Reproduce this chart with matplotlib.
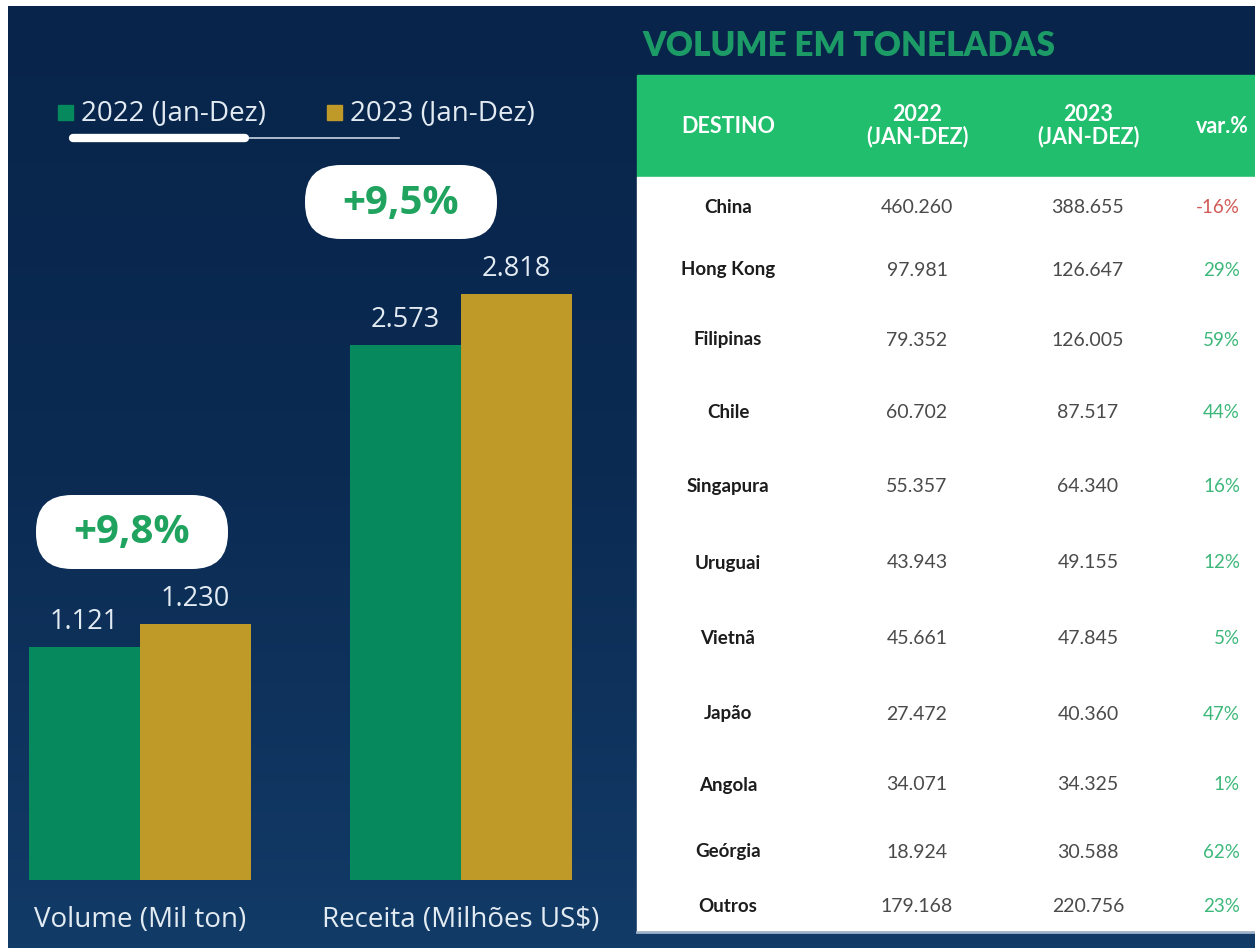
import numpy as np
import matplotlib
matplotlib.use("Agg")
import matplotlib.pyplot as plt
from matplotlib.patches import Rectangle, FancyBboxPatch
from matplotlib.colors import LinearSegmentedColormap

# dados do gráfico de barras
categorias = ['Volume (Mil ton)', 'Receita (Milhões US$)']
valores_2022 = [1.121, 2.573]
valores_2023 = [1.230, 2.818]
variacao_barras = ['+9,8%', '+9,5%']
legenda = ['2022 (Jan-Dez)', '2023 (Jan-Dez)']

# dados da tabela
destinos = ['China', 'Hong Kong', 'Filipinas', 'Chile', 'Singapura', 'Uruguai',
            'Vietnã', 'Japão', 'Angola', 'Geórgia', 'Outros']
ton_2022 = ['460.260', '97.981', '79.352', '60.702', '55.357', '43.943',
            '45.661', '27.472', '34.071', '18.924', '179.168']
ton_2023 = ['388.655', '126.647', '126.005', '87.517', '64.340', '49.155',
            '47.845', '40.360', '34.325', '30.588', '220.756']
var_pct = ['-16%', '29%', '59%', '44%', '16%', '12%', '5%', '47%', '1%', '62%', '23%']
cabecalho = ['DESTINO', '2022\n(JAN-DEZ)', '2023\n(JAN-DEZ)', 'var.%']

VERDE = '#05895d'
OURO = '#c09a29'
VERDE_TAB = '#21bf6d'
TXT = '#e3ebf2'

W, H = 1255, 948
fig = plt.figure(figsize=(W / 100, H / 100), dpi=100, facecolor='white')

# fundo em coordenadas de pixel
bg = fig.add_axes([0, 0, 1, 1])
bg.axis('off')
cmap = LinearSegmentedColormap.from_list('fundo', ['#08244a', '#0b2b53', '#123b67'])
grad = np.linspace(0, 1, 256).reshape(-1, 1)
bg.imshow(grad, cmap=cmap, aspect='auto', extent=(8, W, H, 6), zorder=0)
bg.set_xlim(0, W)
bg.set_ylim(H, 0)

# eixo das barras
fator = 233 / 1.121  # px por unidade
y_top = 3.75
ax = fig.add_axes([8 / W, (H - 880) / H, 612 / W, y_top * fator / H])
ax.set_facecolor('none')
x = np.arange(len(categorias))
larg = 0.346
ax.bar(x - larg / 2, valores_2022, larg, color=VERDE, zorder=3)
ax.bar(x + larg / 2, valores_2023, larg, color=OURO, zorder=3)
ax.set_xlim(-132 / 321, -132 / 321 + 612 / 321)
ax.set_ylim(0, y_top)
for xs, vals in [(x - larg / 2, valores_2022), (x + larg / 2, valores_2023)]:
    for xi, v in zip(xs, vals):
        ax.annotate(f'{v:.3f}', (xi, v), xytext=(0, 8), textcoords='offset points',
                    ha='center', va='bottom', color=TXT, fontsize=19.5, family='Open Sans')
ax.set_xticks(x)
ax.set_xticklabels(categorias, color=TXT, fontsize=20, family='Open Sans')
ax.tick_params(axis='x', length=0, pad=19)
ax.set_yticks([])
for s in ax.spines.values():
    s.set_visible(False)

# pílulas com a variação
pilulas = [(132, 532), (401, 202)]
for (cx, cy), txt in zip(pilulas, variacao_barras):
    bg.add_patch(FancyBboxPatch((cx - 96, cy - 37), 192, 74,
                                boxstyle='round,pad=0,rounding_size=36',
                                fc='white', ec='none', zorder=4))
    bg.text(cx, cy + 1, txt, ha='center', va='center', color='#1fa35e',
            fontsize=29, fontweight='bold', family='Open Sans', zorder=5)

# legenda
leg = [(58, legenda[0], VERDE), (327, legenda[1], OURO)]
for lx, txt, cor in leg:
    bg.add_patch(Rectangle((lx, 105), 15, 15, color=cor, zorder=3))
    bg.text(lx + 23, 113, txt, ha='left', va='center', color=TXT,
            fontsize=20, family='Open Sans')
bg.plot([70, 399], [138, 138], color='#c9d6e2', lw=1.2, zorder=3)
bg.plot([73, 245], [138, 138], color='white', lw=6, solid_capstyle='round', zorder=4)

# tabela
bg.text(642, 46, 'VOLUME EM TONELADAS', ha='left', va='center', color='#1c9b66',
        fontsize=24, fontweight='heavy', family='Lato')
bg.add_patch(Rectangle((637, 75), W - 637, 102, color=VERDE_TAB, zorder=2))
bg.add_patch(Rectangle((637, 177), W - 637, 754, color='white', zorder=2))
bg.plot([637, W], [932, 932], color='#9fb3c8', lw=2, zorder=2)

col_x = [728, 917, 1088, 1222]
for cx, txt in zip(col_x, cabecalho):
    bg.text(cx, 126, txt, ha='center', va='center', color='white', fontsize=15.5,
            fontweight='bold', family='Lato', linespacing=1.05, zorder=3)

linhas_y = [207, 270, 340, 412, 486, 563, 639, 714, 785, 852, 906]
for y, d, a, b, v in zip(linhas_y, destinos, ton_2022, ton_2023, var_pct):
    bg.text(col_x[0], y, d, ha='center', va='center', color='#1c1c1c',
            fontsize=13.5, fontweight='bold', family='Lato', zorder=3)
    bg.text(col_x[1], y, a, ha='center', va='center', color='#4a4a4a',
            fontsize=14, family='Lato', zorder=3)
    bg.text(col_x[2], y, b, ha='center', va='center', color='#4a4a4a',
            fontsize=14, family='Lato', zorder=3)
    cor = '#d05a55' if v.startswith('-') else '#3db87a'
    bg.text(1240, y, v, ha='right', va='center', color=cor,
            fontsize=13.5, family='Lato', zorder=3)

fig.savefig('out.png', dpi=100, facecolor='white')
